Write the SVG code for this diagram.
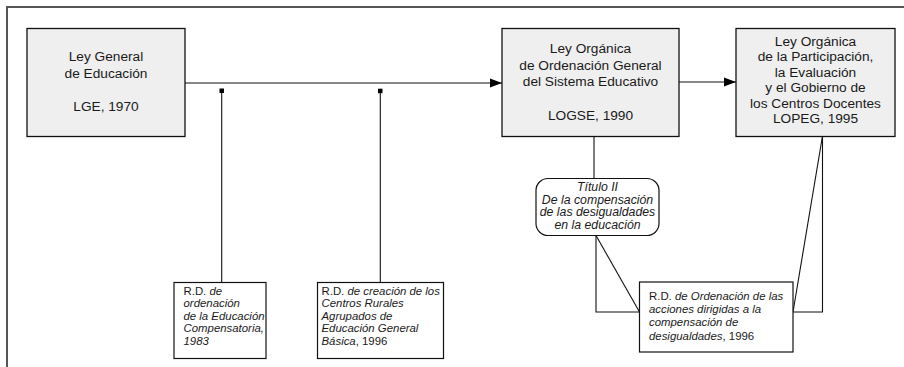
<svg xmlns="http://www.w3.org/2000/svg" width="904" height="367" viewBox="0 0 904 367">
<defs>
<marker id="arr" markerWidth="12" markerHeight="10" refX="12" refY="5" orient="auto" markerUnits="userSpaceOnUse">
<path d="M0,0.5 L12,5 L0,9.5 Z" fill="#000"/>
</marker>
<style>
.frame{stroke:#555;stroke-width:2;fill:none}
.big{fill:#efefef;stroke:#111;stroke-width:1.3}
.small{fill:#fff;stroke:#111;stroke-width:1.2}
.ln{stroke:#111;stroke-width:1.1;fill:none}
text{font-family:"Liberation Sans",Arial,sans-serif;fill:#1a1a1a}
.t1{font-size:13.7px;text-anchor:middle}
.t2{font-size:11.4px}
.t3{font-size:12.3px;text-anchor:middle;font-style:italic}
.i{font-style:italic}
</style>
</defs>
<rect width="904" height="367" fill="#fff"/>
<path class="frame" d="M7,367 V7 H904"/>
<g id="connectors">
<path class="ln" d="M185,83 H502" marker-end="url(#arr)"/>
<path class="ln" d="M679,82 H736" marker-end="url(#arr)"/>
<rect x="219.5" y="88.5" width="4.5" height="4.5" fill="#000"/>
<path class="ln" d="M221.7,93 V282"/>
<rect x="378" y="88.7" width="4.5" height="4.5" fill="#000"/>
<path class="ln" d="M380.3,93 V282"/>
<path class="ln" d="M594,136 V178.5"/>
<path class="ln" d="M596,235.5 V312 H639.5"/>
<path class="ln" d="M596,235.5 L639.5,312"/>
<path class="ln" d="M822.5,136 V312 H793"/>
<path class="ln" d="M822.5,136 L793,312"/>
</g>
<g id="lge">
<rect class="big" x="27" y="28.5" width="158" height="108"/>
<text class="t1" x="106" y="61">Ley General</text>
<text class="t1" x="106" y="77.5">de Educación</text>
<text class="t1" x="106" y="111">LGE, 1970</text>
</g>
<g id="logse">
<rect class="big" x="502" y="28.5" width="177" height="108"/>
<text class="t1" x="590.5" y="53">Ley Orgánica</text>
<text class="t1" x="590.5" y="69.5">de Ordenación General</text>
<text class="t1" x="590.5" y="86">del Sistema Educativo</text>
<text class="t1" x="590.5" y="120">LOGSE, 1990</text>
</g>
<g id="lopeg">
<rect class="big" x="736" y="28.5" width="159" height="108"/>
<text class="t1" x="815.5" y="45.5">Ley Orgánica</text>
<text class="t1" x="815.5" y="61">de la Participación,</text>
<text class="t1" x="815.5" y="76.5">la Evaluación</text>
<text class="t1" x="815.5" y="92">y el Gobierno de</text>
<text class="t1" x="815.5" y="107.5">los Centros Docentes</text>
<text class="t1" x="815.5" y="123">LOPEG, 1995</text>
</g>
<g id="titulo">
<rect class="small" x="536" y="178.5" width="123" height="57" rx="12"/>
<text class="t3" x="597.5" y="191">Título II</text>
<text class="t3" x="597.5" y="203.5">De la compensación</text>
<text class="t3" x="597.5" y="216">de las desigualdades</text>
<text class="t3" x="597.5" y="228.5">en la educación</text>
</g>
<g id="rd1983">
<rect class="small" x="174" y="282.5" width="92" height="76"/>
<text class="t2" x="183.5" y="294.5">R.D. <tspan class="i">de</tspan></text>
<text class="t2 i" x="183.5" y="307">ordenación</text>
<text class="t2 i" x="183.5" y="319.5">de la Educación</text>
<text class="t2 i" x="183.5" y="332">Compensatoria,</text>
<text class="t2 i" x="183.5" y="344.5">1983</text>
</g>
<g id="rd1996a">
<rect class="small" x="317.5" y="282.5" width="126" height="76"/>
<text class="t2" x="321.5" y="294.5">R.D. <tspan class="i">de creación de los</tspan></text>
<text class="t2 i" x="321.5" y="307">Centros Rurales</text>
<text class="t2 i" x="321.5" y="319.5">Agrupados de</text>
<text class="t2 i" x="321.5" y="332">Educación General</text>
<text class="t2" x="321.5" y="344.5"><tspan class="i">Básica</tspan>, 1996</text>
</g>
<g id="rd1996b">
<rect class="small" x="639.5" y="282" width="153.5" height="70"/>
<text class="t2" x="649" y="300">R.D. <tspan class="i">de Ordenación de las</tspan></text>
<text class="t2 i" x="649" y="313.2">acciones dirigidas a la</text>
<text class="t2 i" x="649" y="326.4">compensación de</text>
<text class="t2" x="649" y="339.6"><tspan class="i">desigualdades</tspan>, 1996</text>
</g>
</svg>
